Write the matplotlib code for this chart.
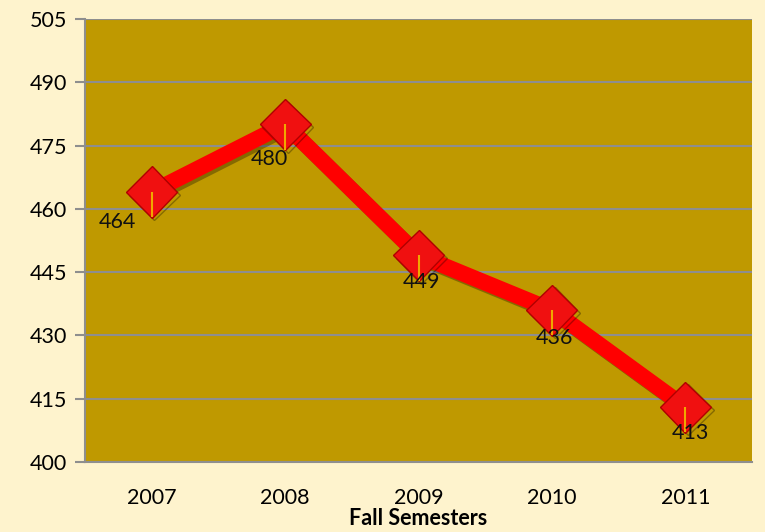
import matplotlib.pyplot as plt
import matplotlib.patheffects as pe

semesters = ["2007", "2008", "2009", "2010", "2011"]
enrollment = [464, 480, 449, 436, 413]
y_ticks = [400, 415, 430, 445, 460, 475, 490, 505]
# label placement relative to each point, in pixels
label_offsets = [(-34, -30), (-16, -35), (3, -27), (3, -28), (5, -26)]

plt.rcParams['font.family'] = ['Lato', 'DejaVu Sans']

fig = plt.figure(figsize=(7.65, 5.32), dpi=100, facecolor='#FEF3CD')
ax = fig.add_axes([85 / 765, 70 / 532, 667 / 765, 443 / 532])
ax.set_facecolor('#BF9900')

x = list(range(len(semesters)))
ax.plot(x, enrollment, color='#FF0000', linewidth=11.5, solid_capstyle='butt',
        marker='D', markersize=26, markerfacecolor='#F01010',
        markeredgecolor='#B00000', markeredgewidth=1, zorder=3,
        path_effects=[pe.SimpleLineShadow(offset=(2, -2), alpha=0.3), pe.Normal()])
ax.errorbar(x, enrollment, yerr=[[6.0] * len(x), [0] * len(x)], fmt='none',
            ecolor='#F0A800', elinewidth=1.5, capsize=0, zorder=4)

for xi, v, off in zip(x, enrollment, label_offsets):
    ax.annotate(str(v), (xi, v), xytext=(off[0] * 0.72, off[1] * 0.72),
                textcoords='offset points', ha='center', va='center',
                fontsize=15.5, color='#111111', zorder=5)

ax.set_xlim(-0.5, len(x) - 0.5)
ax.set_ylim(400, 505)
ax.set_yticks(y_ticks)
ax.set_xticks(x)
ax.set_xticklabels(semesters)
ax.tick_params(axis='y', length=7, width=1.5, color='#8E8E8E', labelsize=15.5, pad=6)
ax.tick_params(axis='x', length=0, labelsize=15.5, pad=19)
ax.yaxis.grid(True, color='#8E8E8E', linewidth=1.5)
ax.set_axisbelow(True)

for side in ['top', 'right']:
    ax.spines[side].set_visible(False)
for side in ['left', 'bottom']:
    ax.spines[side].set_color('#8E8E8E')
    ax.spines[side].set_linewidth(1.5)

ax.set_xlabel('Fall Semesters', fontsize=15.5, fontweight='bold', labelpad=0)

fig.savefig('out.png', dpi=100, facecolor=fig.get_facecolor())
